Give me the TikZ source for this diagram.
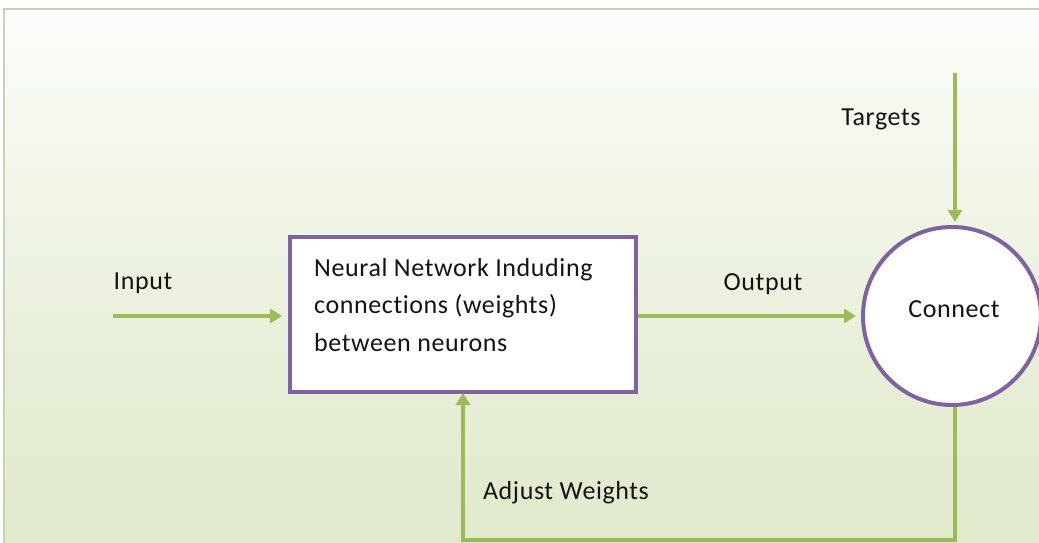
\documentclass[tikz,border=0pt]{standalone}
\usepackage{fontspec}
\setmainfont{Carlito}[LetterSpace=2.3,Ligatures={NoCommon}]
\usetikzlibrary{arrows.meta,shadings}
\definecolor{ngreen}{HTML}{9BBB59}
\definecolor{npurple}{HTML}{7F63A1}
\definecolor{bgbottom}{HTML}{D4E1B8}
\definecolor{bgmid}{HTML}{E9F0DB}
\definecolor{frameline}{HTML}{C9D3B4}
\pgfdeclareverticalshading{bgshade}{100bp}{color(0bp)=(bgbottom); color(45bp)=(bgmid); color(80bp)=(white); color(100bp)=(white)}
\tikzset{
  flow/.style={draw=ngreen, line width=4pt, -{Triangle[length=12pt,width=14pt]}},
  purplebox/.style={draw=npurple, line width=4pt, fill=white},
  lbl/.style={font=\fontsize{26}{31}\selectfont, text=black!92, inner sep=0pt},
}
\begin{document}
\begin{tikzpicture}[x=1pt,y=-1pt]
\useasboundingbox (0,0) rectangle (1039,543);
\shade[shading=bgshade] (4,9) rectangle (1039,543);
\draw[frameline, line width=1.5pt] (4,543) -- (4,9) -- (1039,9);

\node[purplebox, minimum width=346pt, minimum height=155pt, inner sep=0pt] (box) at (463,314.5) {};
\node[lbl, anchor=north west, align=left, font=\fontsize{26}{37.5}\selectfont] (boxtext) at (314,258) {Neural Network Induding\\connections (weights)\\between neurons};

\node[purplebox, circle, minimum size=178pt, inner sep=0pt] (conn) at (952,316) {};
\node[lbl] (conntext) at (954,309) {Connect};

\node[lbl] (input) at (143,283) {Input};
\node[lbl] (output) at (763,284) {Output};
\node[lbl] (targets) at (881,119) {Targets};
\node[lbl] (adjust) at (566,493) {Adjust Weights};

\coordinate (instart) at (113,316);
\coordinate (tstart) at (955,73);
\coordinate (c1) at (955,540);
\coordinate (c2) at (463,540);

\draw[flow, shorten >=6pt] (instart) -- (instart -| box.west);
\draw[flow, shorten >=5pt] (box.east |- instart) -- (conn.west);
\draw[flow, shorten >=3pt] (tstart) -- (tstart |- conn.north);
\draw[flow, shorten >=-1pt] (c1 |- conn.south) -- (c1) -- (c2) -- (box.south);
\end{tikzpicture}
\end{document}
